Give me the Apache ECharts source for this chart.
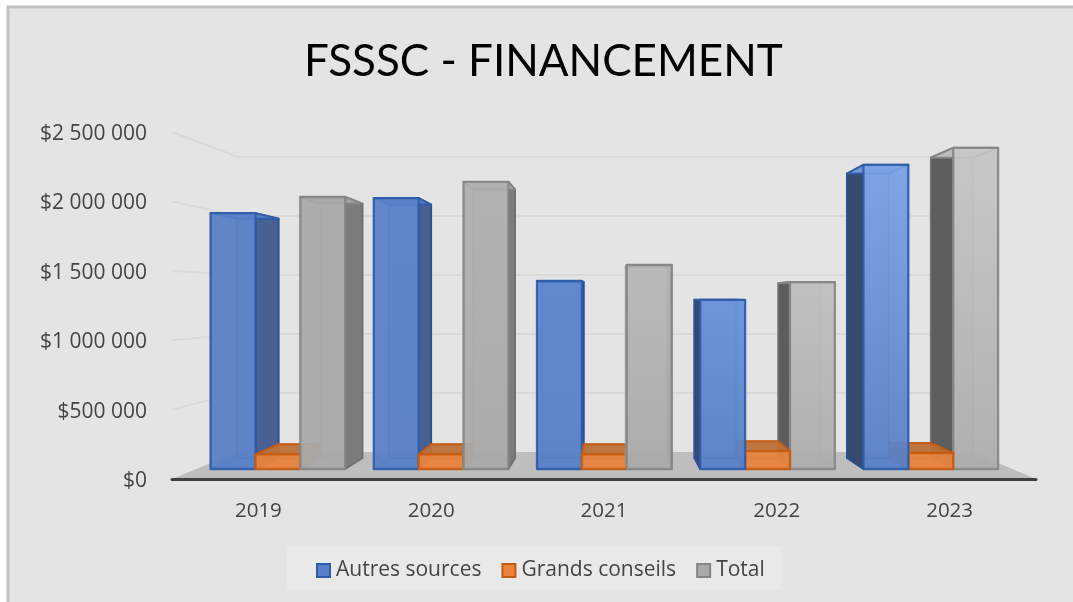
<!DOCTYPE html>
<html><head><meta charset="utf-8">
<style>html,body{margin:0;padding:0;background:#fff;overflow:hidden}#c{width:1073px;height:602px}</style>
<script src="https://cdn.jsdelivr.net/npm/echarts@6/dist/echarts.min.js"></script></head>
<body><div id="c"></div>
<script>
const categories = ['2019','2020','2021','2022','2023'];
const autresSources = [1952000,2067000,1434000,1290000,2320000];
const grandsConseils = [112000,112000,112000,137000,122000];
const total = [2075000,2190000,1556000,1426000,2450000];
const yTicks = [500000,1000000,1500000,2000000,2500000];

// oblique perspective of the Excel 3-D chart, in axis units
const VANISH_BAND = 2.035, VANISH_VALUE = 1297000, S_BACK = 0.15, S_FRONT_BAR = 0.0555, S_BACK_BAR = 0.117, BAR_W = 0.275;

const STYLES = {
  blue:{edge:'#2F5CA8',inner:'#4472BC',sideEdge:'#2D4F8E',rightSide:'#455F8F',leftSide:'#34476C',
    frontTop:['#5880C6','#5981C8','#5D85CE','#6A92DA','#7BA3E8'],frontBot:['#5880C6','#5880C6','#5880C6','#5880C6','#5880C6']},
  orange:{edge:'#C55A11',inner:'#C9682A',sideEdge:'#B9560F',rightSide:'#C56A2C',leftSide:'#B85F24',
    topFace:'#B9703A',frontTop:['#E8843F','#E8843F','#E8843F','#E8843F','#E8843F'],frontBot:['#E8843F','#E8843F','#E8843F','#E8843F','#E8843F']},
  gray:{edge:'#858585',inner:'#9C9C9C',sideEdge:'#6E6E6E',rightSide:'#7A7A7A',leftSide:'#5A5A5A',
    frontTop:['#A9A9A9','#B0B0B0','#B9B9B9','#C0C0C0','#C7C7C7'],frontBot:['#A9A9A9','#A9A9A9','#AAAAAA','#ADADAD','#ADADAD']}
};

function persp(api){
  const c0 = api.coord([0,0]);
  const band = api.size([1,0])[0];
  const vx = c0[0] + VANISH_BAND*band;
  const vy = api.coord([0,VANISH_VALUE])[1];
  return {band,vx,vy,c0,p:(x,y,s)=>[x+(vx-x)*s,y+(vy-y)*s]};
}
function poly(points,fill,stroke,lw,op,z2){
  return {type:'polygon',shape:{points},z2,style:{fill,stroke:stroke||null,lineWidth:lw||0,opacity:op==null?1:op,lineJoin:'round'}};
}
function barRender(offset,st,orderLeft,orderRight){
  return function(params,api){
    const i = api.value(0), v = api.value(1);
    const P = persp(api), c = api.coord([i,v]), base = api.coord([i,0]);
    const w = P.band*BAR_W, x0 = c[0]+(offset-0.5)*w, x1 = x0+w, y1 = c[1], y0 = base[1];
    const a=S_FRONT_BAR,b=S_BACK_BAR,p=P.p;
    const isLeft = c[0] < P.vx;
    const z = 10*(isLeft?orderLeft:orderRight);
    const E = st.edge, I = st.inner;
    const kids = [
      poly([p(x0,y1,b),p(x1,y1,b),p(x1,y0,b),p(x0,y0,b)],st.frontBot[i],I,2,.6,z),
      poly([p(x0,y0,a),p(x1,y0,a),p(x1,y0,b),p(x0,y0,b)],st.frontBot[i],I,2,.6,z+1),
      isLeft ? poly([p(x0,y0,a),p(x0,y1,a),p(x0,y1,b),p(x0,y0,b)],st.frontBot[i],I,1.5,.4,z+1)
             : poly([p(x1,y0,a),p(x1,y1,a),p(x1,y1,b),p(x1,y0,b)],st.frontBot[i],I,1.5,.4,z+1),
      isLeft ? poly([p(x1,y0,a),p(x1,y1,a),p(x1,y1,b),p(x1,y0,b)],st.rightSide,st.sideEdge,1.8,.97,z+2)
             : poly([p(x0,y0,a),p(x0,y1,a),p(x0,y1,b),p(x0,y0,b)],st.leftSide,st.sideEdge,1.8,.97,z+2),
      poly([p(x0,y1,a),p(x1,y1,a),p(x1,y1,b),p(x0,y1,b)],st.topFace||st.frontTop[i],E,2,.9,z+3),
      {type:'polygon',z2:z+4,shape:{points:[p(x0,y1,a),p(x1,y1,a),p(x1,y0,a),p(x0,y0,a)]},
       style:{fill:{type:'linear',x:0,y:0,x2:0,y2:1,colorStops:[{offset:0,color:st.frontTop[i]},{offset:1,color:st.frontBot[i]}]},
              stroke:E,lineWidth:2.3,opacity:.9,lineJoin:'round'}}
    ];
    return {type:'group',children:kids};
  };
}
function floorRender(params,api){
  const P = persp(api), L = P.c0[0]-P.band/2, R = L+P.band*categories.length, y = P.c0[1], s=S_BACK;
  return poly([[L,y],[R,y],P.p(R,y,s),P.p(L,y,s)],'#BEBEBE',null,0,1,0);
}
function wallRender(params,api){
  const P = persp(api), v = api.value(0), y = api.coord([0,v])[1];
  const L = P.c0[0]-P.band/2, R = L+P.band*categories.length;
  return {type:'polyline',z2:0,shape:{points:[[L,y],P.p(L,y,S_BACK),P.p(R,y,S_BACK)]},style:{fill:null,stroke:'#D9D9D9',lineWidth:2}};
}
const seriesOf = (name,vals,st,off,l,r)=>({
  name,type:'custom',coordinateSystem:'cartesian2d',z:3,
  encode:{x:0,y:1},itemStyle:{color:st.frontBot[0]},
  data:vals.map((v,i)=>[i,v]),renderItem:barRender(off,st,l,r)
});
const legendItem=(name,st)=>({name,icon:'rect',itemStyle:{color:st.frontBot[0],borderColor:st.edge,borderWidth:2}});
const font='"Open Sans"';

const chart = echarts.init(document.getElementById('c'),null,{renderer:'canvas'});
chart.setOption({
  animation:false,
  backgroundColor:'#fff',
  graphic:[{type:'rect',z:-10,silent:true,shape:{x:8,y:7,width:1080,height:610},style:{fill:'#E4E4E4',stroke:'#C2C2C2',lineWidth:3}}],
  title:{text:'FSSSC - FINANCEMENT',left:304,top:40,padding:0,textStyle:{fontFamily:'Lato',fontWeight:'normal',fontSize:44,color:'#000'}},
  legend:{left:287,top:546,orient:'horizontal',backgroundColor:'#E9E9E9',borderRadius:0,
    padding:[14,16,9,29],itemWidth:13,itemHeight:13,itemGap:20,
    textStyle:{fontFamily:font,fontSize:21,color:'#444',padding:[0,0,0,1]},
    data:[legendItem('Autres sources',STYLES.blue),legendItem('Grands conseils',STYLES.orange),legendItem('Total',STYLES.gray)]},
  grid:{left:172,right:37,top:132,bottom:123,containLabel:false},
  xAxis:{type:'category',data:categories,z:5,
    axisLine:{show:true,lineStyle:{color:'#3F3F3F',width:3}},axisTick:{show:false},
    axisLabel:{margin:22,fontFamily:font,fontSize:20.5,color:'#444'}},
  yAxis:{type:'value',min:0,max:2500000,interval:500000,z:5,
    axisLine:{show:false},axisTick:{show:false},splitLine:{show:false},
    axisLabel:{margin:25,fontFamily:font,fontSize:21,color:'#444',verticalAlign:'top',lineHeight:4,
      formatter:v=>'$'+String(v).replace(/\B(?=(\d{3})+$)/g,' ')}},
  series:[
    {type:'custom',coordinateSystem:'cartesian2d',name:'floor',z:1,silent:true,data:[[0,0]],renderItem:floorRender,encode:{x:0,y:1}},
    {type:'custom',coordinateSystem:'cartesian2d',name:'walls',z:2,silent:true,data:yTicks.map(v=>[v]),renderItem:wallRender},
    seriesOf('Autres sources',autresSources,STYLES.blue,-1,0,2),
    seriesOf('Grands conseils',grandsConseils,STYLES.orange,0,1,1),
    seriesOf('Total',total,STYLES.gray,1,2,0)
  ]
});
</script></body></html>
